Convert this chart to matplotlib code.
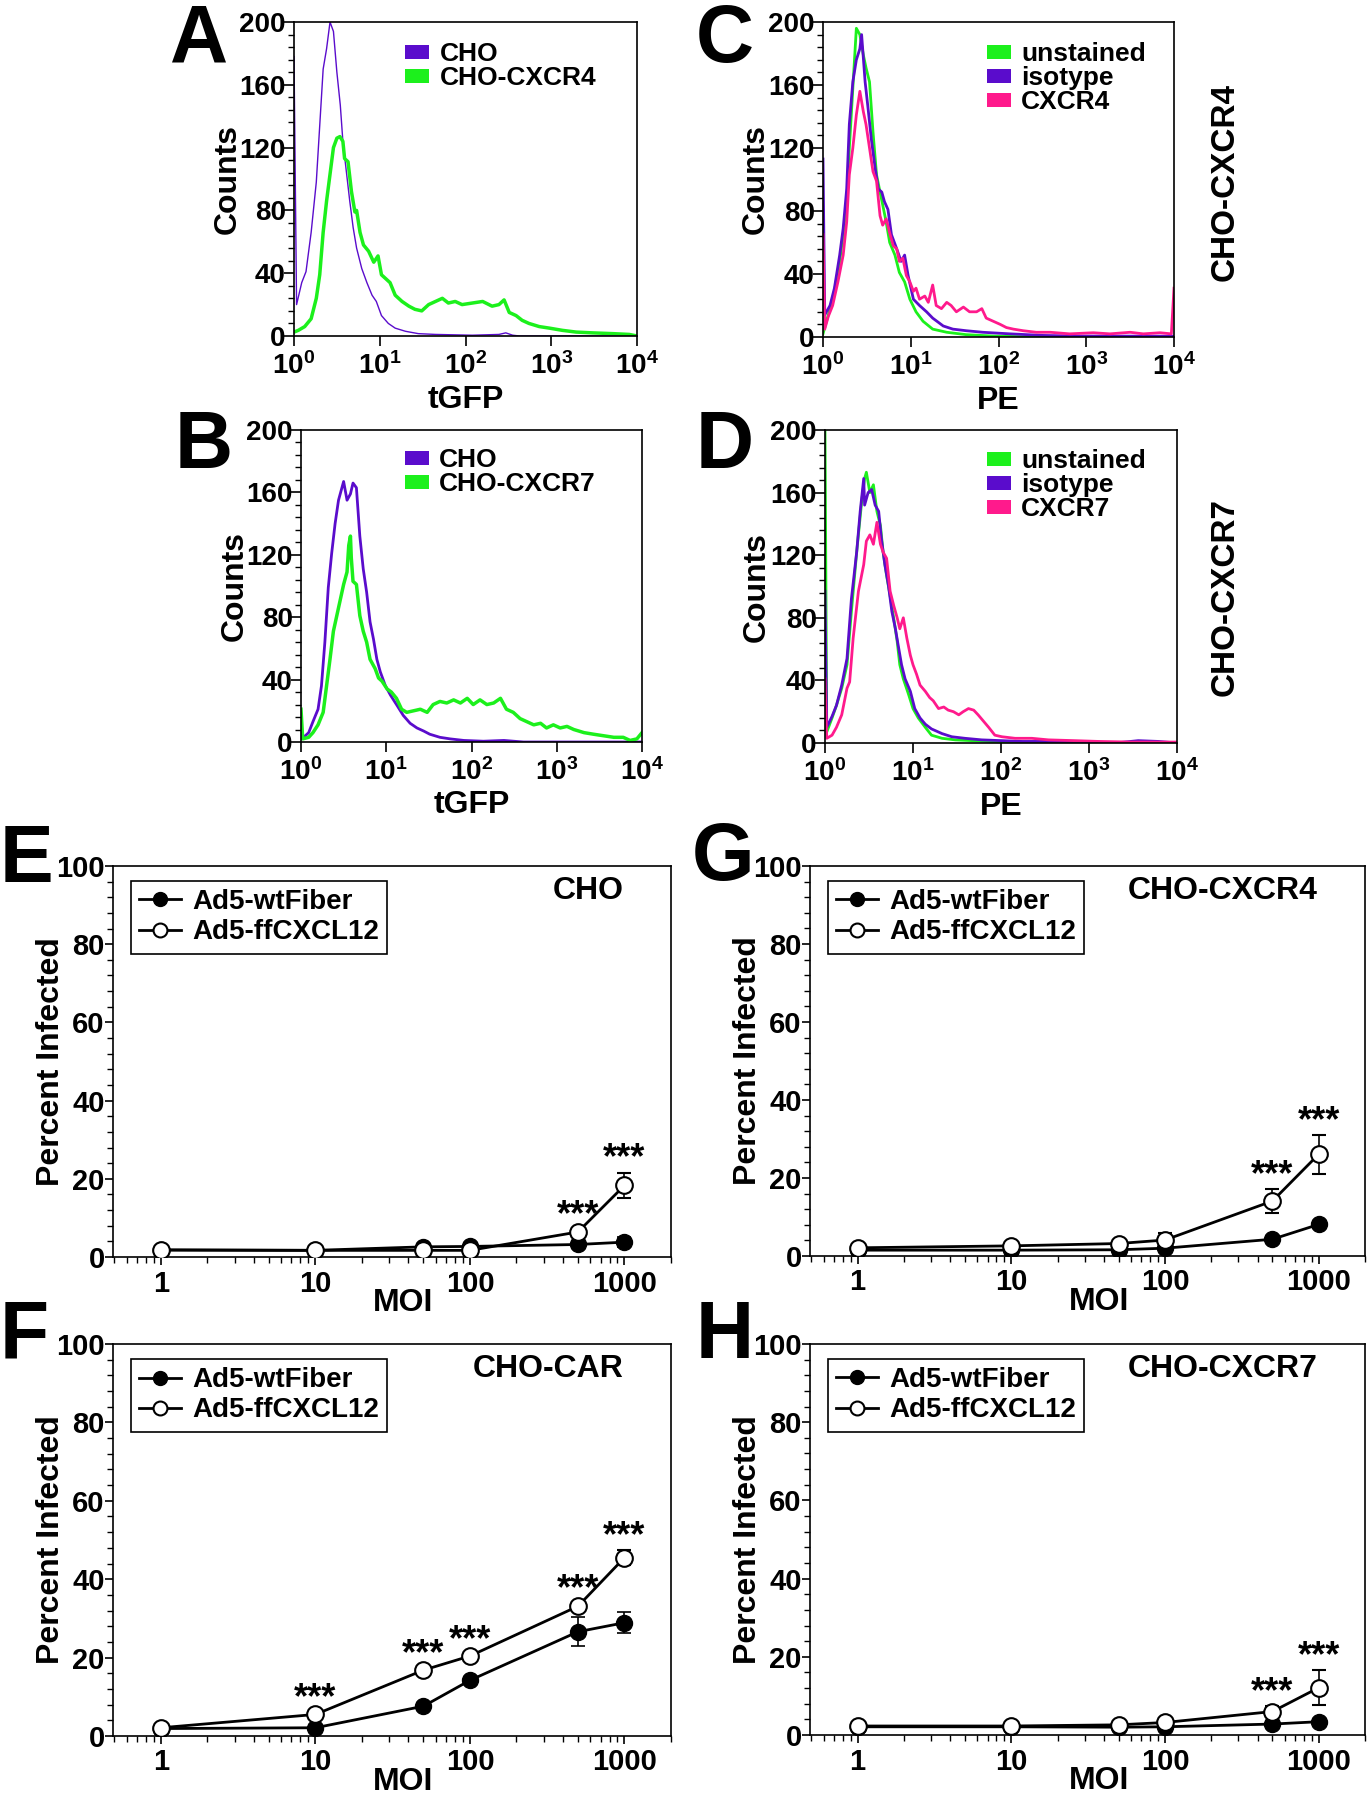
import numpy as np
import matplotlib
matplotlib.use("Agg")
import matplotlib.pyplot as plt
from matplotlib.patches import Patch
from matplotlib.lines import Line2D
from matplotlib.ticker import MultipleLocator, LogLocator, NullFormatter

plt.rcParams['font.family'] = ['Liberation Sans', 'DejaVu Sans']
plt.rcParams['font.weight'] = 'bold'
plt.rcParams['axes.labelweight'] = 'bold'
plt.rcParams['mathtext.fontset'] = 'custom'
plt.rcParams['mathtext.rm'] = 'Liberation Sans:bold'
plt.rcParams['mathtext.it'] = 'Liberation Sans:bold'
plt.rcParams['mathtext.bf'] = 'Liberation Sans:bold'
plt.rcParams['axes.linewidth'] = 1.2

GREEN = '#1cf01c'
PURPLE = '#5a0ccc'
PINK = '#ff1a8c'

# ---- flow histograms: x = log10(intensity), y = counts ----
hist_xticks = [1, 10, 100, 1000, 10000]
hist_xtick_labels = [r'$10^{0}$', r'$10^{1}$', r'$10^{2}$', r'$10^{3}$', r'$10^{4}$']
hist_yticks = [0, 40, 80, 120, 160, 200]

# A: tGFP, CHO vs CHO-CXCR4
a_cho_log = [0.0, 0.03, 0.09, 0.14, 0.20, 0.26, 0.30, 0.34, 0.38, 0.42,
             0.46, 0.50, 0.54, 0.57, 0.61, 0.65, 0.69, 0.73, 0.79, 0.85,
             0.91, 0.96, 1.02, 1.10, 1.18, 1.30, 1.45, 1.65, 2.08, 2.39,
             2.47, 2.55, 2.63, 4.0]
a_cho_cnt = [178, 20, 34, 41, 66, 98, 134, 170, 183, 200,
             194, 168, 147, 124, 105, 86, 69, 56, 43, 34,
             26, 22, 13, 8, 5, 3, 1.5, 1, 0.5, 1,
             2, 0.5, 0, 0]
a_cxcr4_log = [0.0, 0.05, 0.125, 0.20, 0.26, 0.30, 0.34, 0.38, 0.42, 0.46,
               0.50, 0.535, 0.57, 0.59, 0.63, 0.67, 0.71, 0.73, 0.77, 0.81,
               0.87, 0.93, 0.98, 1.02, 1.06, 1.12, 1.18, 1.26, 1.34, 1.41,
               1.49, 1.57, 1.65, 1.73, 1.80, 1.88, 1.96, 2.08, 2.20, 2.31,
               2.39, 2.45, 2.51, 2.59, 2.66, 2.74, 2.86, 2.98, 3.13, 3.29,
               3.48, 3.72, 3.91, 4.0]
a_cxcr4_cnt = [2.5, 3.6, 6, 11, 24, 39, 66, 86, 103, 120,
               126, 127, 124, 113, 111, 92, 79, 80, 66, 58,
               54, 47, 51, 39, 37, 34, 26, 22, 19, 17,
               16, 20, 22, 24, 21, 22, 20, 21, 22, 19,
               20, 23, 15, 13, 10, 8, 6, 5, 3.6, 2.5,
               2, 1.5, 1, 0]

# B: tGFP, CHO vs CHO-CXCR7
b_cho_log = [0.0, 0.03, 0.09, 0.14, 0.20, 0.24, 0.28, 0.32, 0.36, 0.40,
             0.44, 0.48, 0.50, 0.54, 0.58, 0.61, 0.65, 0.69, 0.73, 0.77,
             0.81, 0.85, 0.89, 0.93, 0.99, 1.05, 1.12, 1.20, 1.28, 1.36,
             1.44, 1.51, 1.63, 1.75, 1.91, 2.14, 2.38, 2.61, 4.0]
b_cho_cnt = [2, 3, 6, 13, 21, 36, 64, 99, 121, 140,
             155, 163, 167, 155, 159, 166, 163, 132, 111, 96,
             77, 66, 53, 45, 36, 30, 24, 17, 12, 9,
             7, 5, 3, 2, 1, 0.5, 1, 0, 0]
b_cxcr7_log = [0.0, 0.02, 0.09, 0.14, 0.20, 0.26, 0.30, 0.34, 0.38, 0.44,
               0.50, 0.54, 0.56, 0.58, 0.59, 0.61, 0.65, 0.69, 0.73, 0.77,
               0.81, 0.87, 0.91, 0.95, 1.01, 1.06, 1.12, 1.18, 1.24, 1.32,
               1.40, 1.48, 1.55, 1.63, 1.71, 1.79, 1.87, 1.95, 2.02, 2.10,
               2.18, 2.26, 2.34, 2.41, 2.49, 2.57, 2.65, 2.73, 2.81, 2.88,
               2.96, 3.04, 3.12, 3.20, 3.32, 3.43, 3.55, 3.67, 3.78, 3.86,
               3.94, 4.0]
b_cxcr7_cnt = [21, 2, 3, 6, 11, 19, 36, 53, 71, 86,
               101, 109, 126, 132, 118, 103, 101, 81, 71, 64,
               53, 47, 41, 39, 34, 32, 28, 21, 19, 20,
               21, 19, 24, 26, 25, 27, 25, 28, 24, 27,
               24, 25, 28, 21, 19, 15, 13, 11, 12, 9,
               11, 9, 10, 8, 6, 5, 4, 3, 3, 1,
               2, 6]

# C: PE on CHO-CXCR4
c_uns_log = [0.0, 0.02, 0.08, 0.13, 0.19, 0.23, 0.27, 0.30, 0.34, 0.38,
             0.42, 0.46, 0.49, 0.53, 0.57, 0.61, 0.65, 0.68, 0.72, 0.76,
             0.82, 0.87, 0.93, 0.99, 1.06, 1.14, 1.25, 1.41, 1.63, 1.94,
             2.5, 4.0]
c_uns_cnt = [2, 6, 18, 29, 48, 65, 86, 120, 158, 196,
             192, 179, 171, 162, 130, 103, 92, 84, 73, 60,
             52, 41, 35, 24, 16, 10, 5, 3, 1.5, 0.6,
             0, 0]
c_iso_log = [0.0, 0.02, 0.08, 0.13, 0.19, 0.23, 0.27, 0.30, 0.34, 0.38,
             0.42, 0.44, 0.48, 0.51, 0.55, 0.59, 0.63, 0.67, 0.70, 0.74,
             0.78, 0.84, 0.89, 0.93, 0.97, 1.03, 1.10, 1.18, 1.25, 1.37,
             1.48, 1.63, 1.82, 2.13, 2.51, 2.89, 4.0]
c_iso_cnt = [113, 14, 20, 31, 52, 69, 94, 135, 162, 176,
             183, 192, 162, 147, 126, 109, 94, 92, 86, 81,
             65, 56, 48, 52, 39, 24, 20, 16, 12, 7,
             5, 4, 3, 2, 1, 0.6, 0.5]
c_cx_log = [0.0, 0.02, 0.06, 0.11, 0.17, 0.23, 0.27, 0.30, 0.34, 0.38,
            0.42, 0.46, 0.49, 0.53, 0.57, 0.61, 0.65, 0.68, 0.72, 0.76,
            0.80, 0.84, 0.87, 0.91, 0.95, 0.99, 1.03, 1.06, 1.10, 1.16,
            1.20, 1.25, 1.29, 1.35, 1.41, 1.46, 1.52, 1.60, 1.67, 1.75,
            1.81, 1.86, 1.94, 2.02, 2.09, 2.17, 2.28, 2.43, 2.59, 2.81,
            3.08, 3.27, 3.50, 3.65, 3.84, 3.97, 4.0]
c_cx_cnt = [65, 5, 13, 20, 35, 52, 73, 103, 120, 141,
            156, 143, 135, 120, 105, 99, 77, 71, 75, 66,
            58, 56, 48, 50, 39, 35, 29, 31, 24, 26,
            22, 33, 20, 18, 22, 20, 16, 19, 16, 16,
            18, 12, 10, 8, 6, 5, 4, 3, 3, 2,
            2.7, 2, 3, 2, 2.7, 2, 31]

# D: PE on CHO-CXCR7
d_uns_log = [0.0, 0.02, 0.08, 0.13, 0.19, 0.25, 0.30, 0.36, 0.42,
             0.45, 0.47, 0.51, 0.55, 0.59, 0.63, 0.66, 0.70, 0.74, 0.78,
             0.82, 0.85, 0.89, 0.95, 1.00, 1.06, 1.14, 1.21, 1.33, 1.48,
             1.67, 1.97, 2.54, 4.0]
d_uns_cnt = [200, 7, 16, 24, 35, 50, 84, 122, 156,
             169, 173, 160, 165, 148, 139, 122, 107, 94, 80,
             65, 50, 41, 31, 22, 16, 10, 5, 3, 2,
             1.5, 0.6, 0, 0]
d_iso_log = [0.0, 0.02, 0.08, 0.13, 0.19, 0.25, 0.30, 0.36, 0.40, 0.44,
             0.45, 0.49, 0.53, 0.57, 0.61, 0.64, 0.68, 0.72, 0.76, 0.80,
             0.83, 0.87, 0.91, 0.97, 1.02, 1.08, 1.14, 1.21, 1.33, 1.44,
             1.59, 1.78, 2.01, 2.24, 2.54, 2.92, 3.30, 3.56, 3.79, 4.0]
d_iso_cnt = [97, 10, 17, 24, 37, 54, 92, 122, 148, 169,
             152, 160, 162, 152, 148, 131, 114, 101, 84, 73,
             63, 50, 41, 33, 22, 16, 12, 9, 6, 4,
             3, 2, 1.5, 1, 1, 1, 0, 1.5, 1, 0]
d_cx_log = [0.0, 0.02, 0.08, 0.13, 0.19, 0.25, 0.28, 0.32, 0.38, 0.44,
            0.47, 0.51, 0.55, 0.59, 0.63, 0.66, 0.70, 0.74, 0.78, 0.82,
            0.85, 0.89, 0.93, 0.97, 1.00, 1.04, 1.08, 1.14, 1.19, 1.23,
            1.29, 1.35, 1.40, 1.46, 1.52, 1.57, 1.63, 1.69, 1.74, 1.80,
            1.86, 1.93, 2.01, 2.16, 2.35, 2.54, 2.84, 3.11, 3.49, 4.0]
d_cx_cnt = [41, 3, 5, 10, 18, 35, 39, 67, 97, 114,
            129, 133, 127, 141, 127, 122, 118, 97, 88, 80,
            73, 80, 67, 56, 50, 44, 37, 33, 29, 27,
            22, 23, 21, 20, 18, 20, 22, 21, 18, 14,
            10, 5, 4, 3, 3, 2, 1.5, 1, 0.6, 0.6]

# ---- infection curves ----
moi = [1, 10, 50, 100, 500, 1000]
moi_ticks = [1, 10, 100, 1000]
moi_labels = ['1', '10', '100', '1000']
pct_ticks = [0, 20, 40, 60, 80, 100]

e_wt = [1.8, 1.7, 2.6, 2.7, 3.2, 3.8]
e_wt_err = [0.3, 0.3, 0.4, 0.4, 1.0, 1.2]
e_ff = [1.8, 1.7, 1.7, 1.7, 6.4, 18.3]
e_ff_err = [0.3, 0.3, 0.3, 0.3, 0.8, 3.3]
e_stars = [4, 5]

f_wt = [1.9, 2.1, 7.6, 14.2, 26.6, 28.9]
f_wt_err = [0.3, 0.4, 0.6, 0.8, 3.7, 2.7]
f_ff = [2.1, 5.5, 16.8, 20.4, 33.1, 45.5]
f_ff_err = [0.3, 0.5, 0.6, 0.6, 0.8, 2.0]
f_stars = [1, 2, 3, 4, 5]

g_wt = [1.5, 1.5, 1.6, 2.0, 4.3, 8.1]
g_wt_err = [0.3, 0.3, 0.3, 0.4, 0.6, 0.8]
g_ff = [2.1, 2.6, 3.2, 4.1, 14.1, 26.1]
g_ff_err = [0.3, 0.6, 0.6, 1.7, 3.1, 5.0]
g_stars = [4, 5]

h_wt = [2.1, 2.1, 2.0, 2.1, 2.8, 3.4]
h_wt_err = [0.3, 0.3, 0.3, 0.3, 0.5, 0.6]
h_ff = [2.3, 2.3, 2.6, 3.2, 6.0, 12.1]
h_ff_err = [0.3, 0.3, 0.4, 0.5, 1.3, 4.4]
h_stars = [4, 5]

W, H = 1367, 1800


def px_axes(fig, left, right, top, bottom):
    return fig.add_axes([left / W, 1 - bottom / H, (right - left) / W, (bottom - top) / H])


def hist_panel(ax, curves, xlabel, legend_xy):
    for logs, cnts, color, lw, label in curves:
        ax.plot(10 ** np.array(logs), cnts, color=color, lw=lw, label=label)
    ax.set_xscale('log')
    ax.set_xlim(1, 1e4)
    ax.set_ylim(0, 200)
    ax.set_xticks(hist_xticks)
    ax.set_xticklabels(hist_xtick_labels)
    ax.xaxis.set_minor_locator(LogLocator(base=10, subs=np.arange(2, 10)))
    ax.xaxis.set_minor_formatter(NullFormatter())
    ax.set_yticks(hist_yticks)
    ax.yaxis.set_minor_locator(MultipleLocator(8))
    ax.tick_params(which='major', length=7, width=1.2, labelsize=20)
    ax.tick_params(axis='y', which='major', pad=-1)
    ax.tick_params(axis='x', which='major', pad=5)
    ax.tick_params(which='minor', length=4, width=1)
    ax.set_xlabel(xlabel, fontsize=23)
    ax.set_ylabel('Counts', fontsize=23)
    ax.xaxis.set_label_coords(0.5, -0.155)
    ax.yaxis.set_label_coords(-0.15, 0.5)
    handles = [Patch(facecolor=c[2], edgecolor='none', label=c[4]) for c in curves]
    ax.legend(handles=handles, loc='upper left', bbox_to_anchor=legend_xy,
              frameon=False, fontsize=19, handlelength=0.9, handleheight=0.45,
              handletextpad=0.4, labelspacing=0.0, borderpad=0, borderaxespad=0)


def line_panel(ax, wt, wt_err, ff, ff_err, stars, title):
    ax.errorbar(moi, wt, yerr=wt_err, fmt='-o', color='black', mfc='black', mec='black',
                ms=11.5, lw=2, elinewidth=1.2, capsize=5, capthick=1.2, zorder=3)
    ax.errorbar(moi, ff, yerr=ff_err, fmt='-o', color='black', mfc='white', mec='black',
                mew=1.5, ms=12, lw=2, elinewidth=1.2, capsize=5, capthick=1.2, zorder=4)
    for i in stars:
        ax.text(moi[i], ff[i] + ff_err[i] + 1, '***', ha='center', va='baseline', fontsize=26)
    ax.set_xscale('log')
    ax.set_xlim(0.49, 2000)
    ax.set_ylim(0, 100)
    ax.set_xticks(moi_ticks)
    ax.set_xticklabels(moi_labels)
    ax.xaxis.set_minor_locator(LogLocator(base=10, subs=np.arange(2, 10)))
    ax.xaxis.set_minor_formatter(NullFormatter())
    ax.set_yticks(pct_ticks)
    ax.yaxis.set_minor_locator(MultipleLocator(4))
    ax.tick_params(which='major', length=6, width=1.2, labelsize=21)
    ax.tick_params(axis='y', which='major', pad=0)
    ax.tick_params(axis='x', which='major', pad=3)
    ax.tick_params(which='minor', length=4, width=1)
    ax.set_xlabel('MOI', fontsize=23)
    ax.set_ylabel('Percent Infected', fontsize=23)
    ax.xaxis.set_label_coords(0.52, -0.079)
    ax.yaxis.set_label_coords(-0.085, 0.5)
    ax.text(0.915, 0.935, title, transform=ax.transAxes, ha='right', va='center', fontsize=23)
    handles = [Line2D([], [], color='black', lw=2, marker='o', ms=10, mfc='black', mec='black'),
               Line2D([], [], color='black', lw=2, marker='o', ms=10, mfc='white', mec='black', mew=1.5)]
    leg = ax.legend(handles, ['Ad5-wtFiber', 'Ad5-ffCXCL12'], loc='upper left',
                    bbox_to_anchor=(0.032, 0.962), fontsize=20, frameon=True, fancybox=False,
                    edgecolor='black', framealpha=1, handlelength=1.5, handletextpad=0.4,
                    labelspacing=0.15, borderpad=0.3, borderaxespad=0)
    leg.get_frame().set_linewidth(1.2)


def main():
    fig = plt.figure(figsize=(W / 100, H / 100), dpi=100)

    ax_a = px_axes(fig, 294, 637, 22, 336)
    hist_panel(ax_a, [(a_cho_log, a_cho_cnt, PURPLE, 1.0, 'CHO'),
                      (a_cxcr4_log, a_cxcr4_cnt, GREEN, 2.5, 'CHO-CXCR4')],
               'tGFP', (0.324, 0.936))
    ax_b = px_axes(fig, 301, 642, 430, 742)
    hist_panel(ax_b, [(b_cho_log, b_cho_cnt, PURPLE, 2.0, 'CHO'),
                      (b_cxcr7_log, b_cxcr7_cnt, GREEN, 2.5, 'CHO-CXCR7')],
               'tGFP', (0.305, 0.942))
    ax_c = px_axes(fig, 823, 1174, 22, 337)
    hist_panel(ax_c, [(c_uns_log, c_uns_cnt, GREEN, 2.0, 'unstained'),
                      (c_iso_log, c_iso_cnt, PURPLE, 2.0, 'isotype'),
                      (c_cx_log, c_cx_cnt, PINK, 2.0, 'CXCR4')],
               'PE', (0.467, 0.936))
    ax_d = px_axes(fig, 825, 1177, 430, 743)
    hist_panel(ax_d, [(d_uns_log, d_uns_cnt, GREEN, 2.0, 'unstained'),
                      (d_iso_log, d_iso_cnt, PURPLE, 2.0, 'isotype'),
                      (d_cx_log, d_cx_cnt, PINK, 2.0, 'CXCR7')],
               'PE', (0.46, 0.939))

    fig.text(1225 / W, 1 - 182 / H, 'CHO-CXCR4', rotation=90, ha='center', va='center', fontsize=24)
    fig.text(1225 / W, 1 - 597 / H, 'CHO-CXCR7', rotation=90, ha='center', va='center', fontsize=24)

    ax_e = px_axes(fig, 113, 671, 866, 1257)
    line_panel(ax_e, e_wt, e_wt_err, e_ff, e_ff_err, e_stars, 'CHO')
    ax_g = px_axes(fig, 810, 1365, 866, 1256)
    line_panel(ax_g, g_wt, g_wt_err, g_ff, g_ff_err, g_stars, 'CHO-CXCR4')
    ax_f = px_axes(fig, 113, 671, 1344, 1736)
    line_panel(ax_f, f_wt, f_wt_err, f_ff, f_ff_err, f_stars, 'CHO-CAR')
    ax_h = px_axes(fig, 810, 1365, 1344, 1735)
    line_panel(ax_h, h_wt, h_wt_err, h_ff, h_ff_err, h_stars, 'CHO-CXCR7')

    # panel letters (left x, baseline y in pixels)
    for letter, x, y in [('A', 170, 62), ('B', 175, 468), ('C', 696, 62), ('D', 696, 468),
                         ('E', 0, 882), ('F', 0, 1358), ('G', 692, 880), ('H', 696, 1358)]:
        fig.text(x / W, 1 - y / H, letter, fontsize=58, ha='left', va='baseline')

    fig.savefig('out.png', dpi=100)


if __name__ == "__main__":
    main()
